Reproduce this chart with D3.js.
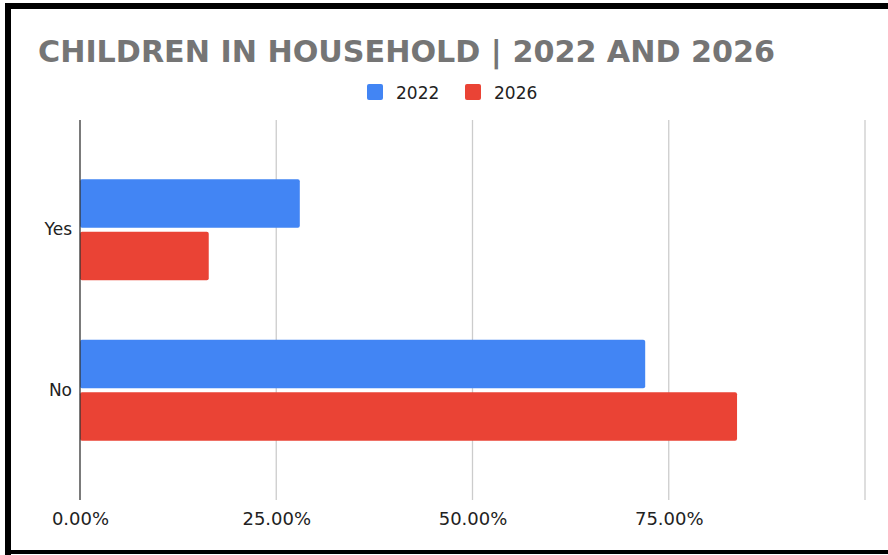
<!DOCTYPE html>
<html>
<head>
<meta charset="utf-8">
<script src="https://cdn.jsdelivr.net/npm/d3@7"></script>
<style>
  html, body { margin: 0; padding: 0; background: #fff; }
  svg { display: block; }
</style>
</head>
<body>
<svg id="chart" width="888" height="555"></svg>
<script>
// Share of households with children, by survey year
const categories = ["Yes", "No"];
const seriesNames = ["2022", "2026"];
const values2022 = [0.28, 0.72];
const values2026 = [0.164, 0.837];
const gridValues = [0, 0.25, 0.5, 0.75, 1];
const tickLabels = ["0.00%", "25.00%", "50.00%", "75.00%"];
const colors = ["#4285f4", "#ea4335"];

const seriesValues = [values2022, values2026];
const rows = categories.map((c, i) => ({
  category: c,
  bars: seriesNames.map((s, j) => ({ series: s, value: seriesValues[j][i], color: colors[j] }))
}));

const svg = d3.select("#chart");
const font = "'DejaVu Sans', Verdana, sans-serif";

// outer frame
svg.append("path")
  .attr("d", "M8,560 V6 H900")
  .attr("fill", "none").attr("stroke", "#000").attr("stroke-width", 6);
svg.append("line")
  .attr("x1", 6).attr("x2", 900).attr("y1", 552).attr("y2", 552)
  .attr("stroke", "#000").attr("stroke-width", 4);

const x = d3.scaleLinear().domain([0, 1]).range([80, 865]);
const y = d3.scaleBand().domain(categories).range([120, 500]).paddingInner(0.37).paddingOuter(0.37);
const ySub = d3.scaleBand().domain(seriesNames).range([0, y.bandwidth()]).paddingInner(0.075);

// title
svg.append("text")
  .attr("x", 38).attr("y", 62)
  .attr("font-family", font).attr("font-weight", "bold").attr("font-size", 31)
  .attr("fill", "#757575")
  .attr("textLength", 737).attr("lengthAdjust", "spacingAndGlyphs")
  .text("CHILDREN IN HOUSEHOLD | 2022 AND 2026");

// legend
const legend = svg.append("g");
const legendX = [367, 465];
seriesNames.forEach((s, i) => {
  legend.append("rect")
    .attr("x", legendX[i]).attr("y", 84).attr("width", 16).attr("height", 16)
    .attr("rx", 2).attr("fill", colors[i]);
  legend.append("text")
    .attr("x", legendX[i] + 29).attr("y", 98.5)
    .attr("font-family", font).attr("font-size", 17).attr("fill", "#222")
    .text(s);
});

// vertical gridlines
svg.append("g")
  .selectAll("line").data(gridValues.slice(1)).join("line")
  .attr("x1", d => x(d)).attr("x2", d => x(d))
  .attr("y1", 120).attr("y2", 500)
  .attr("stroke", "#cccccc").attr("stroke-width", 1.3);

// bars
const groups = svg.append("g").selectAll("g").data(rows).join("g")
  .attr("transform", d => `translate(0,${y(d.category)})`);
groups.selectAll("rect").data(d => d.bars).join("rect")
  .attr("x", x(0))
  .attr("y", d => ySub(d.series))
  .attr("width", d => x(d.value) - x(0))
  .attr("height", ySub.bandwidth())
  .attr("rx", 2)
  .attr("fill", d => d.color);

// baseline axis
svg.append("line")
  .attr("x1", x(0)).attr("x2", x(0)).attr("y1", 120).attr("y2", 500)
  .attr("stroke", "#333").attr("stroke-width", 1.3);

// x tick labels
const xAxis = d3.axisBottom(x)
  .tickValues(gridValues.slice(0, tickLabels.length))
  .tickFormat((d, i) => tickLabels[i])
  .tickSize(0).tickPadding(0);
const gx = svg.append("g").attr("transform", "translate(0,510)").call(xAxis);
gx.select(".domain").remove();
gx.selectAll("text")
  .attr("font-family", font).attr("font-size", 18).attr("fill", "#222").attr("dy", "0.85em");

// category labels
const yAxis = d3.axisLeft(y).tickSize(0).tickPadding(8);
const gy = svg.append("g").attr("transform", `translate(${x(0)},0)`).call(yAxis);
gy.select(".domain").remove();
gy.selectAll("text")
  .attr("font-family", font).attr("font-size", 17).attr("fill", "#222");
</script>
</body>
</html>
